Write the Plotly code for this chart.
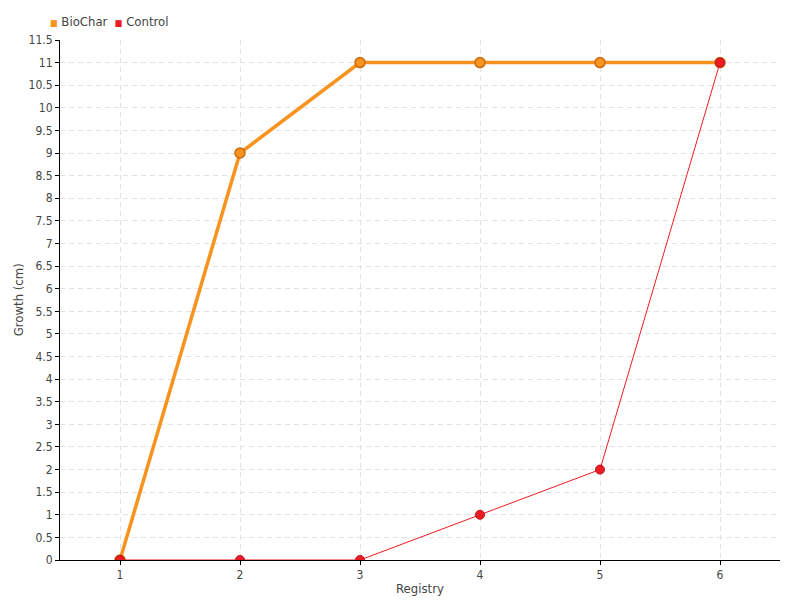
import plotly.graph_objects as go

registry = [1, 2, 3, 4, 5, 6]
biochar = [0, 9, 11, 11, 11, 11]
control = [0, 0, 0, 1, 2, 11]
y_ticks = [i * 0.5 for i in range(24)]

FONT = "DejaVu Sans Condensed, Roboto, sans-serif"
ORANGE = "#f7931e"
RED = "#ed1c24"

fig = go.Figure()
fig.add_trace(go.Scatter(
    x=registry, y=biochar, name="BioChar", mode="lines+markers",
    line=dict(color=ORANGE, width=3.5),
    marker=dict(color=ORANGE, size=10, line=dict(color="#c86a10", width=1.5)),
    showlegend=False,
))
fig.add_trace(go.Scatter(
    x=registry, y=control, name="Control", mode="lines+markers",
    line=dict(color=RED, width=1),
    marker=dict(color=RED, size=9, line=dict(color="#c0101a", width=1)),
    showlegend=False,
))

axis_common = dict(
    showline=True, linecolor="black", linewidth=1,
    ticks="outside", ticklen=4, tickcolor="black",
    gridcolor="#e2e2e2", griddash="5px,4px", gridwidth=1,
    zeroline=False, automargin=False,
    tickfont=dict(family=FONT, size=12, color="#444"),
)
fig.update_xaxes(
    range=[0.5, 6.5], tickvals=registry, ticktext=[str(r) for r in registry],
    title=dict(text="Registry", font=dict(family=FONT, size=13, color="#444"), standoff=2),
    **axis_common,
)
fig.update_yaxes(
    range=[0, 11.5], tickvals=y_ticks, ticktext=[f"{v:g}" for v in y_ticks],
    **axis_common,
)

# y-axis title placed close to the tick labels, as in the reference
fig.add_annotation(
    text="Growth (cm)", xref="paper", yref="paper", x=-0.058, y=0.5,
    xanchor="center", yanchor="middle", textangle=-90, showarrow=False,
    font=dict(family=FONT, size=13, color="#444"),
)

legend_items = [("BioChar", ORANGE), ("Control", RED)]
legend_text = "  ".join(
    f"<span style='color:{c};font-size:9px'>■</span> {n}" for n, c in legend_items
)
fig.add_annotation(
    text=legend_text, xref="paper", yref="paper", x=-0.017, y=1.035,
    xanchor="left", yanchor="middle", showarrow=False,
    font=dict(family=FONT, size=13, color="#444"),
)

fig.update_layout(
    width=800, height=600,
    margin=dict(l=60, r=20, t=40, b=40),
    plot_bgcolor="white", paper_bgcolor="white",
    font=dict(family=FONT),
)

fig.write_html(
    "out.html",
    config={"displayModeBar": False},
    post_script="document.body.style.margin='0';",
)
